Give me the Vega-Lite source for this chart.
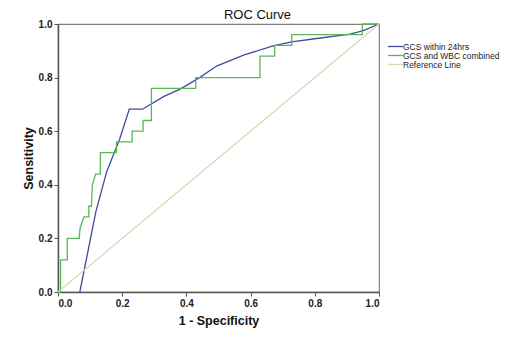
{
  "$schema": "https://vega.github.io/schema/vega-lite/v6.json",
  "width": 321,
  "height": 268,
  "autosize": {"type": "none"},
  "padding": {"left": 58, "top": 24, "right": 144, "bottom": 45},
  "background": "white",
  "title": {"text": "ROC Curve", "fontSize": 13, "fontWeight": "normal", "font": "Liberation Sans", "color": "#111", "dx": 39, "offset": -3},
  "config": {
    "view": {"stroke": "#808080", "strokeWidth": 1.2},
    "axis": {"grid": false, "domainColor": "#555", "domainWidth": 1.5, "tickColor": "#555", "tickSize": 4,
      "labelFont": "Liberation Sans", "labelFontWeight": "bold", "labelFontSize": 10, "labelColor": "#222",
      "titleFont": "Liberation Sans", "titleFontWeight": "bold", "titleFontSize": 12.5, "titleColor": "#111"}
  },
  "data": {"values": [
    {"s": "GCS within 24hrs", "o": 1, "x": 0.068, "y": 0},
    {"s": "GCS within 24hrs", "o": 2, "x": 0.088, "y": 0.12},
    {"s": "GCS within 24hrs", "o": 3, "x": 0.118, "y": 0.3},
    {"s": "GCS within 24hrs", "o": 4, "x": 0.152, "y": 0.45},
    {"s": "GCS within 24hrs", "o": 5, "x": 0.192, "y": 0.57},
    {"s": "GCS within 24hrs", "o": 6, "x": 0.222, "y": 0.682},
    {"s": "GCS within 24hrs", "o": 7, "x": 0.263, "y": 0.682},
    {"s": "GCS within 24hrs", "o": 8, "x": 0.33, "y": 0.73},
    {"s": "GCS within 24hrs", "o": 9, "x": 0.379, "y": 0.756},
    {"s": "GCS within 24hrs", "o": 10, "x": 0.441, "y": 0.8},
    {"s": "GCS within 24hrs", "o": 11, "x": 0.494, "y": 0.843},
    {"s": "GCS within 24hrs", "o": 12, "x": 0.58, "y": 0.885},
    {"s": "GCS within 24hrs", "o": 13, "x": 0.67, "y": 0.918},
    {"s": "GCS within 24hrs", "o": 14, "x": 0.728, "y": 0.933},
    {"s": "GCS within 24hrs", "o": 15, "x": 0.8, "y": 0.945},
    {"s": "GCS within 24hrs", "o": 16, "x": 0.91, "y": 0.962},
    {"s": "GCS within 24hrs", "o": 17, "x": 0.951, "y": 0.975},
    {"s": "GCS within 24hrs", "o": 18, "x": 1, "y": 1},
    {"s": "GCS and WBC combined", "o": 1, "x": 0, "y": 0},
    {"s": "GCS and WBC combined", "o": 2, "x": 0.008, "y": 0},
    {"s": "GCS and WBC combined", "o": 3, "x": 0.008, "y": 0.12},
    {"s": "GCS and WBC combined", "o": 4, "x": 0.029, "y": 0.12},
    {"s": "GCS and WBC combined", "o": 5, "x": 0.029, "y": 0.2},
    {"s": "GCS and WBC combined", "o": 6, "x": 0.066, "y": 0.2},
    {"s": "GCS and WBC combined", "o": 7, "x": 0.069, "y": 0.24},
    {"s": "GCS and WBC combined", "o": 8, "x": 0.081, "y": 0.28},
    {"s": "GCS and WBC combined", "o": 9, "x": 0.096, "y": 0.28},
    {"s": "GCS and WBC combined", "o": 10, "x": 0.096, "y": 0.32},
    {"s": "GCS and WBC combined", "o": 11, "x": 0.104, "y": 0.32},
    {"s": "GCS and WBC combined", "o": 12, "x": 0.107, "y": 0.4},
    {"s": "GCS and WBC combined", "o": 13, "x": 0.117, "y": 0.44},
    {"s": "GCS and WBC combined", "o": 14, "x": 0.132, "y": 0.44},
    {"s": "GCS and WBC combined", "o": 15, "x": 0.132, "y": 0.52},
    {"s": "GCS and WBC combined", "o": 16, "x": 0.182, "y": 0.52},
    {"s": "GCS and WBC combined", "o": 17, "x": 0.182, "y": 0.56},
    {"s": "GCS and WBC combined", "o": 18, "x": 0.231, "y": 0.56},
    {"s": "GCS and WBC combined", "o": 19, "x": 0.231, "y": 0.6},
    {"s": "GCS and WBC combined", "o": 20, "x": 0.265, "y": 0.6},
    {"s": "GCS and WBC combined", "o": 21, "x": 0.265, "y": 0.64},
    {"s": "GCS and WBC combined", "o": 22, "x": 0.291, "y": 0.64},
    {"s": "GCS and WBC combined", "o": 23, "x": 0.291, "y": 0.76},
    {"s": "GCS and WBC combined", "o": 24, "x": 0.429, "y": 0.76},
    {"s": "GCS and WBC combined", "o": 25, "x": 0.429, "y": 0.8},
    {"s": "GCS and WBC combined", "o": 26, "x": 0.629, "y": 0.8},
    {"s": "GCS and WBC combined", "o": 27, "x": 0.629, "y": 0.88},
    {"s": "GCS and WBC combined", "o": 28, "x": 0.675, "y": 0.88},
    {"s": "GCS and WBC combined", "o": 29, "x": 0.675, "y": 0.92},
    {"s": "GCS and WBC combined", "o": 30, "x": 0.728, "y": 0.92},
    {"s": "GCS and WBC combined", "o": 31, "x": 0.728, "y": 0.96},
    {"s": "GCS and WBC combined", "o": 32, "x": 0.948, "y": 0.96},
    {"s": "GCS and WBC combined", "o": 33, "x": 0.948, "y": 1},
    {"s": "GCS and WBC combined", "o": 34, "x": 1, "y": 1},
    {"s": "Reference Line", "o": 1, "x": 0, "y": 0},
    {"s": "Reference Line", "o": 2, "x": 1, "y": 1}
  ]},
  "mark": {"type": "line", "strokeWidth": 1.3},
  "encoding": {
    "x": {"field": "x", "type": "quantitative", "scale": {"domain": [0, 1], "nice": false},
      "axis": {"title": "1 - Specificity", "values": [0, 0.2, 0.4, 0.6, 0.8, 1], "format": ".1f", "titlePadding": 6}},
    "y": {"field": "y", "type": "quantitative", "scale": {"domain": [0, 1], "nice": false},
      "axis": {"title": "Sensitivity", "values": [0, 0.2, 0.4, 0.6, 0.8, 1], "format": ".1f", "titlePadding": 3, "labelPadding": 2}},
    "color": {"field": "s", "type": "nominal",
      "scale": {"domain": ["GCS within 24hrs", "GCS and WBC combined", "Reference Line"], "range": ["#3f4c9e", "#58b858", "#dcd8b6"]},
      "legend": {"title": null, "orient": "none", "legendX": 333, "legendY": 18,
        "symbolType": "M-2,0H2", "symbolSize": 56, "symbolStrokeWidth": 1.3,
        "labelFont": "Liberation Sans", "labelFontSize": 8.5, "labelColor": "#222", "labelOffset": 3, "rowPadding": 0}},
    "order": {"field": "o", "type": "quantitative"}
  }
}
